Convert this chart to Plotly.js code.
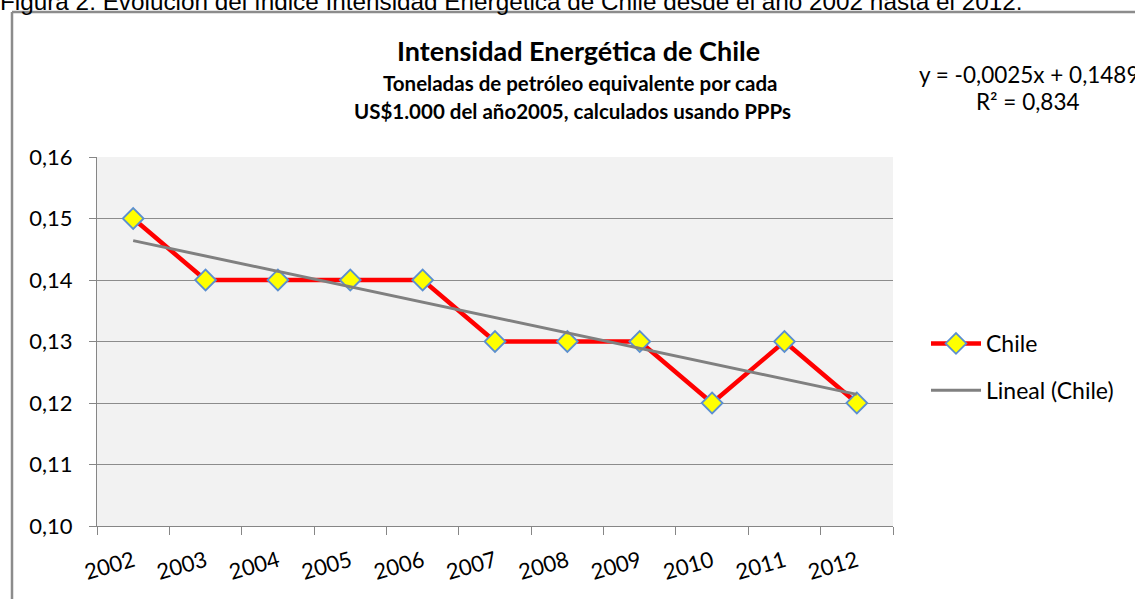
<!DOCTYPE html>
<html>
<head>
<meta charset="utf-8">
<script src="https://cdn.plot.ly/plotly-3.0.1.min.js"></script>
<style>html,body{margin:0;padding:0;background:#fff;}#chart{width:1135px;height:599px;}</style>
</head>
<body>
<div id="chart"></div>
<script>
const years = ['2002','2003','2004','2005','2006','2007','2008','2009','2010','2011','2012'];
const chile = [0.15,0.14,0.14,0.14,0.14,0.13,0.13,0.13,0.12,0.13,0.12];
const trendYears = ['2002','2012'];
const trendValues = [0.1464,0.1214];
const yTicks = [0.10,0.11,0.12,0.13,0.14,0.15,0.16];

const W = 1135, H = 599;
const L = 97, R = 893, T = 157, B = 526;
const px = x => (x - L) / (R - L);
const py = y => (B - y) / (B - T);
const font = 'Lato, "Open Sans", sans-serif';

const traces = [
  {
    x: years, y: chile, name: 'Chile', type: 'scatter', mode: 'lines+markers',
    line: {color: '#ff0000', width: 4.5},
    marker: {symbol: 'diamond', size: 16, color: '#ffff00', line: {color: '#5b8fd0', width: 1.8}},
    legendgroup: 'a'
  },
  {
    x: trendYears, y: trendValues, name: 'Lineal (Chile)', type: 'scatter', mode: 'lines',
    line: {color: '#808080', width: 3},
    legendgroup: 'b'
  }
];

const layout = {
  width: W, height: H,
  margin: {l: L, r: W - R, t: T, b: H - B},
  paper_bgcolor: '#ffffff',
  plot_bgcolor: '#f2f2f2',
  separators: ',.',
  font: {family: font, color: '#000', size: 18},
  showlegend: true,
  legend: {
    x: px(926), y: py(322), xanchor: 'left', yanchor: 'top',
    font: {family: font, size: 23, color: '#000'},
    bgcolor: 'rgba(0,0,0,0)', traceorder: 'grouped', tracegroupgap: 14,
    itemwidth: 50
  },
  xaxis: {
    type: 'category', range: [-0.5, 10.5], fixedrange: true,
    tickson: 'boundaries', ticks: 'outside', ticklen: 8, tickcolor: '#868686', tickwidth: 1,
    showline: true, linecolor: '#868686', linewidth: 1,
    showgrid: false, tickangle: -16, ticklabelstandoff: 13,
    tickfont: {family: font, size: 22, color: '#000'}
  },
  yaxis: {
    range: [0.10, 0.16], tickvals: yTicks, tickformat: '.2f',
    ticks: 'outside', ticklen: 7, tickcolor: '#868686',
    showline: true, linecolor: '#868686', linewidth: 1,
    showgrid: true, gridcolor: '#8c8c8c', gridwidth: 1, zeroline: false,
    ticklabelstandoff: 12,
    tickfont: {family: font, size: 22, color: '#000'}
  },
  annotations: [
    {text: 'Figura 2: Evolución del índice Intensidad Energética de Chile desde el año 2002 hasta el 2012.',
     xref: 'paper', yref: 'paper', x: px(-2), y: py(17), xanchor: 'left', yanchor: 'bottom',
     showarrow: false, font: {family: '"Liberation Sans", Arial, sans-serif', size: 24.3, color: '#000'}},
    {text: '<b>Intensidad Energética de Chile</b>', xref: 'paper', yref: 'paper',
     x: px(578), y: py(50), xanchor: 'center', yanchor: 'middle', showarrow: false,
     font: {family: font, size: 27, color: '#000'}},
    {text: '<b>Toneladas de petróleo equivalente por cada</b>', xref: 'paper', yref: 'paper',
     x: px(580), y: py(83), xanchor: 'center', yanchor: 'middle', showarrow: false,
     font: {family: font, size: 20.5, color: '#000'}},
    {text: '<b>US$1.000 del año2005, calculados usando PPPs</b>', xref: 'paper', yref: 'paper',
     x: px(572), y: py(111), xanchor: 'center', yanchor: 'middle', showarrow: false,
     font: {family: font, size: 20.5, color: '#000'}},
    {text: 'y = -0,0025x + 0,1489', xref: 'paper', yref: 'paper',
     x: px(917), y: py(74), xanchor: 'left', yanchor: 'middle', showarrow: false,
     font: {family: font, size: 22.5, color: '#000'}},
    {text: 'R² = 0,834', xref: 'paper', yref: 'paper',
     x: px(1028), y: py(102), xanchor: 'center', yanchor: 'middle', showarrow: false,
     font: {family: font, size: 22.5, color: '#000'}}
  ],
  shapes: [
    {type: 'line', xref: 'paper', yref: 'paper', x0: px(12), x1: px(12), y0: py(12), y1: py(620),
     line: {color: '#8c8c8c', width: 2.5}},
    {type: 'line', xref: 'paper', yref: 'paper', x0: px(12), x1: px(1140), y0: py(12), y1: py(12),
     line: {color: '#8c8c8c', width: 2.5}}
  ]
};

Plotly.newPlot('chart', traces, layout, {displayModeBar: false, staticPlot: true});
</script>
</body>
</html>
